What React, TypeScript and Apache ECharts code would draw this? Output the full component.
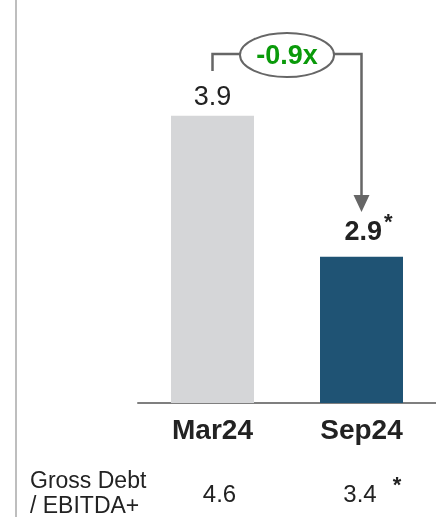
import React, { useEffect, useRef } from "react";
import * as echarts from "echarts";

const categories = ["Mar24", "Sep24"];
const leverage = [3.9, 2.9];
const barColors = ["#d5d6d8", "#1f5374"];
const changeLabel = "-0.9x";
const grossLabel = "Gross Debt\n/ EBITDA+";
const grossValues = ["4.6", "3.4"];

export default function App() {
  const ref = useRef<HTMLDivElement>(null);
  useEffect(() => {
    const chart = echarts.init(ref.current!, null, { renderer: "svg" });
    const font = "'Liberation Sans', Arial, sans-serif";
    chart.setOption({
      animation: false,
      grid: { left: 138, right: 0, top: 10, bottom: 114 },
      xAxis: {
        type: "category",
        data: categories,
        axisLine: { lineStyle: { color: "#7f7f7f", width: 2 } },
        axisTick: { show: false },
        axisLabel: {
          color: "#222",
          fontSize: 28,
          fontWeight: "bold",
          fontFamily: font,
          margin: 12,
        },
      },
      yAxis: { type: "value", min: 1.864, max: 4.65, show: false, splitLine: { show: false } },
      series: [
        {
          type: "bar",
          barWidth: 83,
          data: leverage.map((v, i) => ({
            value: v,
            itemStyle: { color: barColors[i] },
            label:
              i === 1
                ? {
                    formatter: "{b|" + v.toFixed(1) + "}{s|*}",
                    offset: [7, 0],
                    rich: {
                      b: { fontSize: 27, fontWeight: "bold", color: "#222", fontFamily: font },
                      s: { fontSize: 22, fontWeight: "bold", color: "#222", fontFamily: font, verticalAlign: "top", padding: [0, 0, 18, 2] },
                    },
                  }
                : { formatter: v.toFixed(1), fontSize: 27, color: "#222", fontFamily: font },
          })),
          label: { show: true, position: "top", distance: 6 },
        },
      ],
    });
    const x1 = chart.convertToPixel({ xAxisIndex: 0 }, categories[0]) as number;
    const x2 = chart.convertToPixel({ xAxisIndex: 0 }, categories[1]) as number;
    const yTop = 54;
    const ex = 287, ey = 55, rx = 47, ry = 22;
    const lineStyle = { stroke: "#666", lineWidth: 2.5 };
    chart.setOption({
      graphic: [
        { type: "line", shape: { x1: 16, y1: 0, x2: 16, y2: 517 }, style: { stroke: "#a8a8a8", lineWidth: 1.5 } },
        { type: "polyline", shape: { points: [[x1, 71], [x1, yTop], [ex - rx, yTop]] }, style: { ...lineStyle, fill: null } },
        { type: "polyline", shape: { points: [[ex + rx, yTop], [x2, yTop], [x2, 197]] }, style: { ...lineStyle, fill: null } },
        { type: "polygon", shape: { points: [[x2 - 8, 195], [x2 + 8, 195], [x2, 212]] }, style: { fill: "#666" } },
        { type: "ellipse", shape: { cx: ex, cy: ey, rx, ry }, style: { fill: "#fff", stroke: "#666", lineWidth: 2 } },
        {
          type: "text", x: ex, y: ey,
          style: { text: changeLabel, fontSize: 27, fontWeight: "bold", fill: "#0a9a0a", fontFamily: font, align: "center", verticalAlign: "middle" },
        },
        {
          type: "text", x: 30, y: 492,
          style: { text: grossLabel, fontSize: 23, lineHeight: 25, fill: "#222", fontFamily: font, align: "left", verticalAlign: "middle" },
        },
        {
          type: "text", x: 219.5, y: 493,
          style: { text: grossValues[0], fontSize: 24, fill: "#222", fontFamily: font, align: "center", verticalAlign: "middle" },
        },
        {
          type: "text", x: 360, y: 493,
          style: { text: grossValues[1], fontSize: 24, fill: "#222", fontFamily: font, align: "center", verticalAlign: "middle" },
        },
        {
          type: "text", x: 397, y: 484,
          style: { text: "*", fontSize: 22, fontWeight: "bold", fill: "#222", fontFamily: font, align: "center", verticalAlign: "middle" },
        },
      ],
    });
    return () => chart.dispose();
  }, []);
  return <div ref={ref} style={{ position: "fixed", left: 0, top: 0, width: 436, height: 517 }} />;
}
